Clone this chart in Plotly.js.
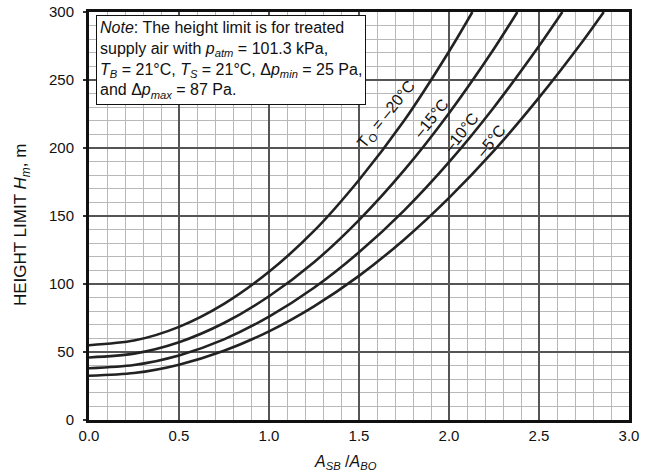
<!DOCTYPE html>
<html><head><meta charset="utf-8">
<script src="https://cdn.plot.ly/plotly-3.0.1.min.js"></script>
<style>html,body{margin:0;padding:0;background:#fff}</style>
</head><body>
<div id="chart" style="width:647px;height:473px"></div>
<script>
// Curve data (x = A_SB/A_BO, y = height limit in m)
const x20 = [0, 0.25, 0.5, 0.75, 1.0, 1.25, 1.5, 1.75, 2.0, 2.13];
const y20 = [55, 58.4, 68.5, 85.4, 109, 139, 176.5, 220, 271, 300];
const x15 = [0, 0.25, 0.5, 0.75, 1.0, 1.25, 1.5, 1.75, 2.0, 2.25, 2.38];
const y15 = [46, 48.8, 57.2, 71.3, 91, 116, 147, 183.5, 225.6, 273, 300];
const x10 = [0, 0.25, 0.5, 0.75, 1.0, 1.25, 1.5, 1.75, 2.0, 2.25, 2.5, 2.63];
const y10 = [38, 40.4, 47.5, 59.3, 76, 97.2, 123.3, 154, 189.6, 230, 275, 300];
const x5 = [0, 0.25, 0.5, 0.75, 1.0, 1.25, 1.5, 1.75, 2.0, 2.25, 2.5, 2.75, 2.86];
const y5 = [32.5, 34.5, 40.7, 50.9, 65.2, 83.6, 106, 132.6, 163.3, 198, 237, 279.8, 300];

const curveLabels = ["T<sub>O</sub> = \u201320\u00B0C", "\u201315\u00B0C", "\u201310\u00B0C", "\u20135\u00B0C"];
const labelX = [1.655, 1.9, 2.068, 2.235];
const labelY = [224.5, 221.6, 211.3, 205.5];

const xTickVals = [0, 0.5, 1.0, 1.5, 2.0, 2.5, 3.0];
const xTickText = ["0.0", "0.5", "1.0", "1.5", "2.0", "2.5", "3.0"];
const yTickVals = [0, 50, 100, 150, 200, 250, 300];

const xTitle = "<i>A<sub>SB</sub></i> /<i>A<sub>BO</sub></i>";
const yTitle = "HEIGHT LIMIT <i>H<sub>m</sub></i>, m";
const noteText = "<i>Note</i>: The height limit is for treated<br>" +
  "supply air with <i>p<sub>atm</sub></i> = 101.3 kPa,<br>" +
  "<i>T<sub>B</sub></i> = 21\u00B0C, <i>T<sub>S</sub></i> = 21\u00B0C, \u0394<i>p<sub>min</sub></i> = 25 Pa,<br>" +
  "and \u0394<i>p<sub>max</sub></i> = 87 Pa.";

const FONT = "Liberation Sans, Arial, sans-serif";
const lineStyle = {color: "#222", width: 2.6, shape: "spline", smoothing: 0.8};

const series = [[x20, y20], [x15, y15], [x10, y10], [x5, y5]];
const traces = series.map(s => ({
  x: s[0], y: s[1], type: "scatter", mode: "lines", line: lineStyle,
  hoverinfo: "skip", showlegend: false, cliponaxis: true
}));

const annotations = curveLabels.map((t, i) => ({
  x: labelX[i], y: labelY[i], xref: "x", yref: "y", text: t, showarrow: false,
  textangle: -51, font: {family: FONT, size: 16, color: "#111"},
  xanchor: "center", yanchor: "middle"
}));
annotations.push({
  xref: "paper", yref: "paper", x: 0.013, y: 0.993, xanchor: "left", yanchor: "top",
  text: noteText, showarrow: false, align: "left",
  font: {family: FONT, size: 16, color: "#111"},
  bgcolor: "#fff", bordercolor: "#111", borderwidth: 1, borderpad: 3
});
annotations.push({
  xref: "paper", yref: "paper", x: -0.124, y: 0.478, xanchor: "center", yanchor: "middle",
  text: yTitle, showarrow: false, textangle: -90,
  font: {family: FONT, size: 17, color: "#111"}
});
annotations.push({
  xref: "paper", yref: "paper", x: 0.475, y: -0.103, xanchor: "center", yanchor: "middle",
  text: xTitle, showarrow: false,
  font: {family: FONT, size: 16, color: "#111"}
});

const layout = {
  width: 647, height: 473,
  margin: {l: 89, r: 18, t: 12, b: 53},
  paper_bgcolor: "#fff", plot_bgcolor: "#fff",
  font: {family: FONT, size: 15, color: "#111"},
  showlegend: false,
  xaxis: {
    range: [0, 3], tickvals: xTickVals, ticktext: xTickText,
    showgrid: true, gridcolor: "#555", gridwidth: 2,
    minor: {dtick: 0.1, showgrid: true, gridcolor: "#b8b8b8", gridwidth: 1},
    showline: true, linecolor: "#111", linewidth: 3, mirror: true,
    ticks: "", zeroline: false, tickfont: {size: 15}
  },
  yaxis: {
    range: [0, 300], tickvals: yTickVals,
    showgrid: true, gridcolor: "#555", gridwidth: 2,
    minor: {dtick: 10, showgrid: true, gridcolor: "#b8b8b8", gridwidth: 1},
    showline: true, linecolor: "#111", linewidth: 3, mirror: true,
    ticks: "outside", ticklen: 3, tickcolor: "#333", tickwidth: 2,
    ticklabelstandoff: 6,
    zeroline: false, tickfont: {size: 15}
  },
  annotations: annotations
};

Plotly.newPlot("chart", traces, layout, {staticPlot: true, displayModeBar: false});
</script>
</body></html>
